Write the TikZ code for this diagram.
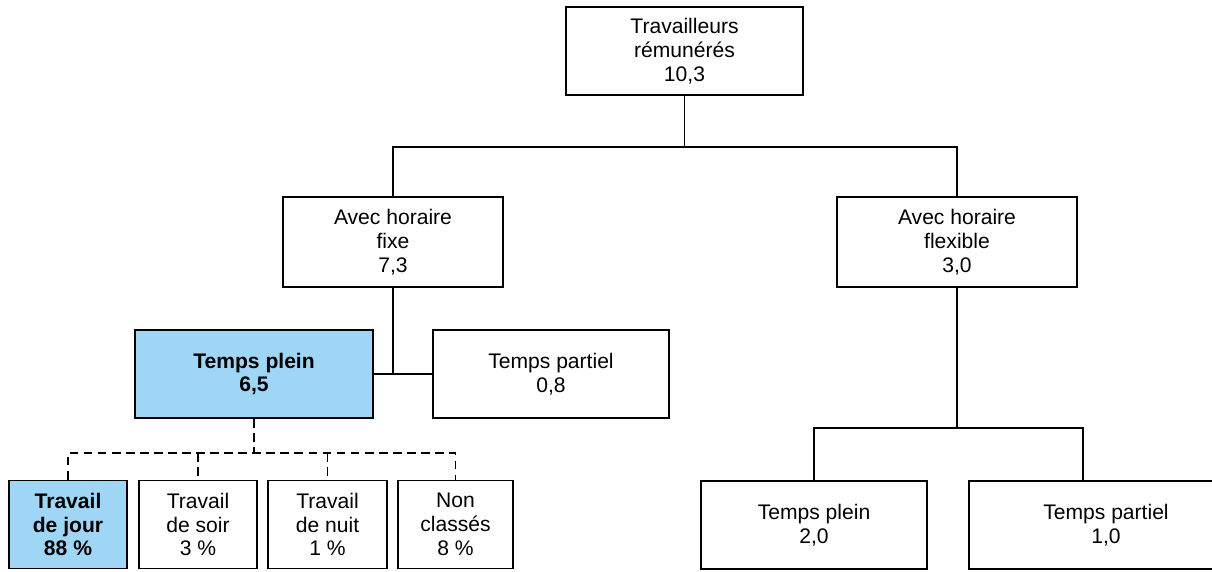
\documentclass[tikz,border=0pt]{standalone}
\usepackage{fontspec}
\setmainfont{Liberation Sans}
\usetikzlibrary{positioning,calc}
\definecolor{paleblue}{RGB}{160,214,245}
\tikzstyle{box} = [draw=black, line width=1.1pt, fill=white, align=center, inner sep=2pt, font=\fontsize{12}{13.6}\selectfont]
\tikzstyle{hbox} = [box, fill=paleblue, font=\fontsize{12}{13.6}\selectfont\bfseries]
\tikzstyle{link} = [line width=0.9pt]
\tikzstyle{dlink} = [line width=0.9pt, dash pattern=on 5pt off 3pt]

\begin{document}
\begin{tikzpicture}[x=0.02cm,y=-0.02cm]
\useasboundingbox (0,0) rectangle (1212,571);
\clip (0,0) rectangle (1212,571);
\node[box, minimum width=4.74cm, minimum height=1.76cm] (trav) at (684.5,51) {Travailleurs\\rémunérés\\10,3};
\node[box, minimum width=4.4cm, minimum height=1.8cm] (fixe) at (393,242) {Avec horaire\\fixe\\7,3};
\node[box, minimum width=4.8cm, minimum height=1.8cm] (flex) at (957,242) {Avec horaire\\flexible\\3,0};
\node[hbox, minimum width=4.76cm, minimum height=1.76cm] (tplein) at (254,374) {Temps plein\\6,5};
\node[box, minimum width=4.72cm, minimum height=1.76cm] (tpart) at (551,374) {Temps partiel\\0,8};
\node[hbox, minimum width=2.36cm, minimum height=1.76cm] (jour) at (68,524.5) {Travail\\de jour\\88 \%};
\node[box, minimum width=2.36cm, minimum height=1.76cm] (soir) at (198,524.5) {Travail\\de soir\\3 \%};
\node[box, minimum width=2.38cm, minimum height=1.76cm] (nuit) at (327.5,524.5) {Travail\\de nuit\\1 \%};
\node[box, minimum width=2.3cm, minimum height=1.76cm] (non) at (455.5,524.5) {Non\\classés\\8 \%};
\node[box, minimum width=4.52cm, minimum height=1.76cm] (fplein) at (814,525) {Temps plein\\2,0};
\node[box, minimum width=5.48cm, minimum height=1.76cm] (fpart) at (1106,525) {Temps partiel\\1,0};
\coordinate (j1) at (684.5,147);
\coordinate (j2) at (254,453);
\coordinate (j3) at (957,428);
\coordinate (j4) at (1083,428);
\draw[link] (trav) -- (j1);
\draw[link] (fixe.north) -- (fixe.north |- j1) -- (flex.north |- j1) -- (flex.north);
\draw[link] (fixe.south) -- (fixe.south |- tplein.east);
\draw[link] (tplein.east) -- (tpart.west);
\draw[dlink] (tplein.south) -- (j2);
\draw[dlink] (jour.north) -- (jour.north |- j2) -- (non.north |- j2) -- (non.north);
\draw[dlink] (soir.north |- j2) -- (soir.north);
\draw[dlink] (nuit.north |- j2) -- (nuit.north);
\draw[link] (flex.south) -- (j3);
\draw[link] (fplein.north) -- (fplein.north |- j3) -- (j4) -- (j4 |- fpart.north);
\end{tikzpicture}
\end{document}
